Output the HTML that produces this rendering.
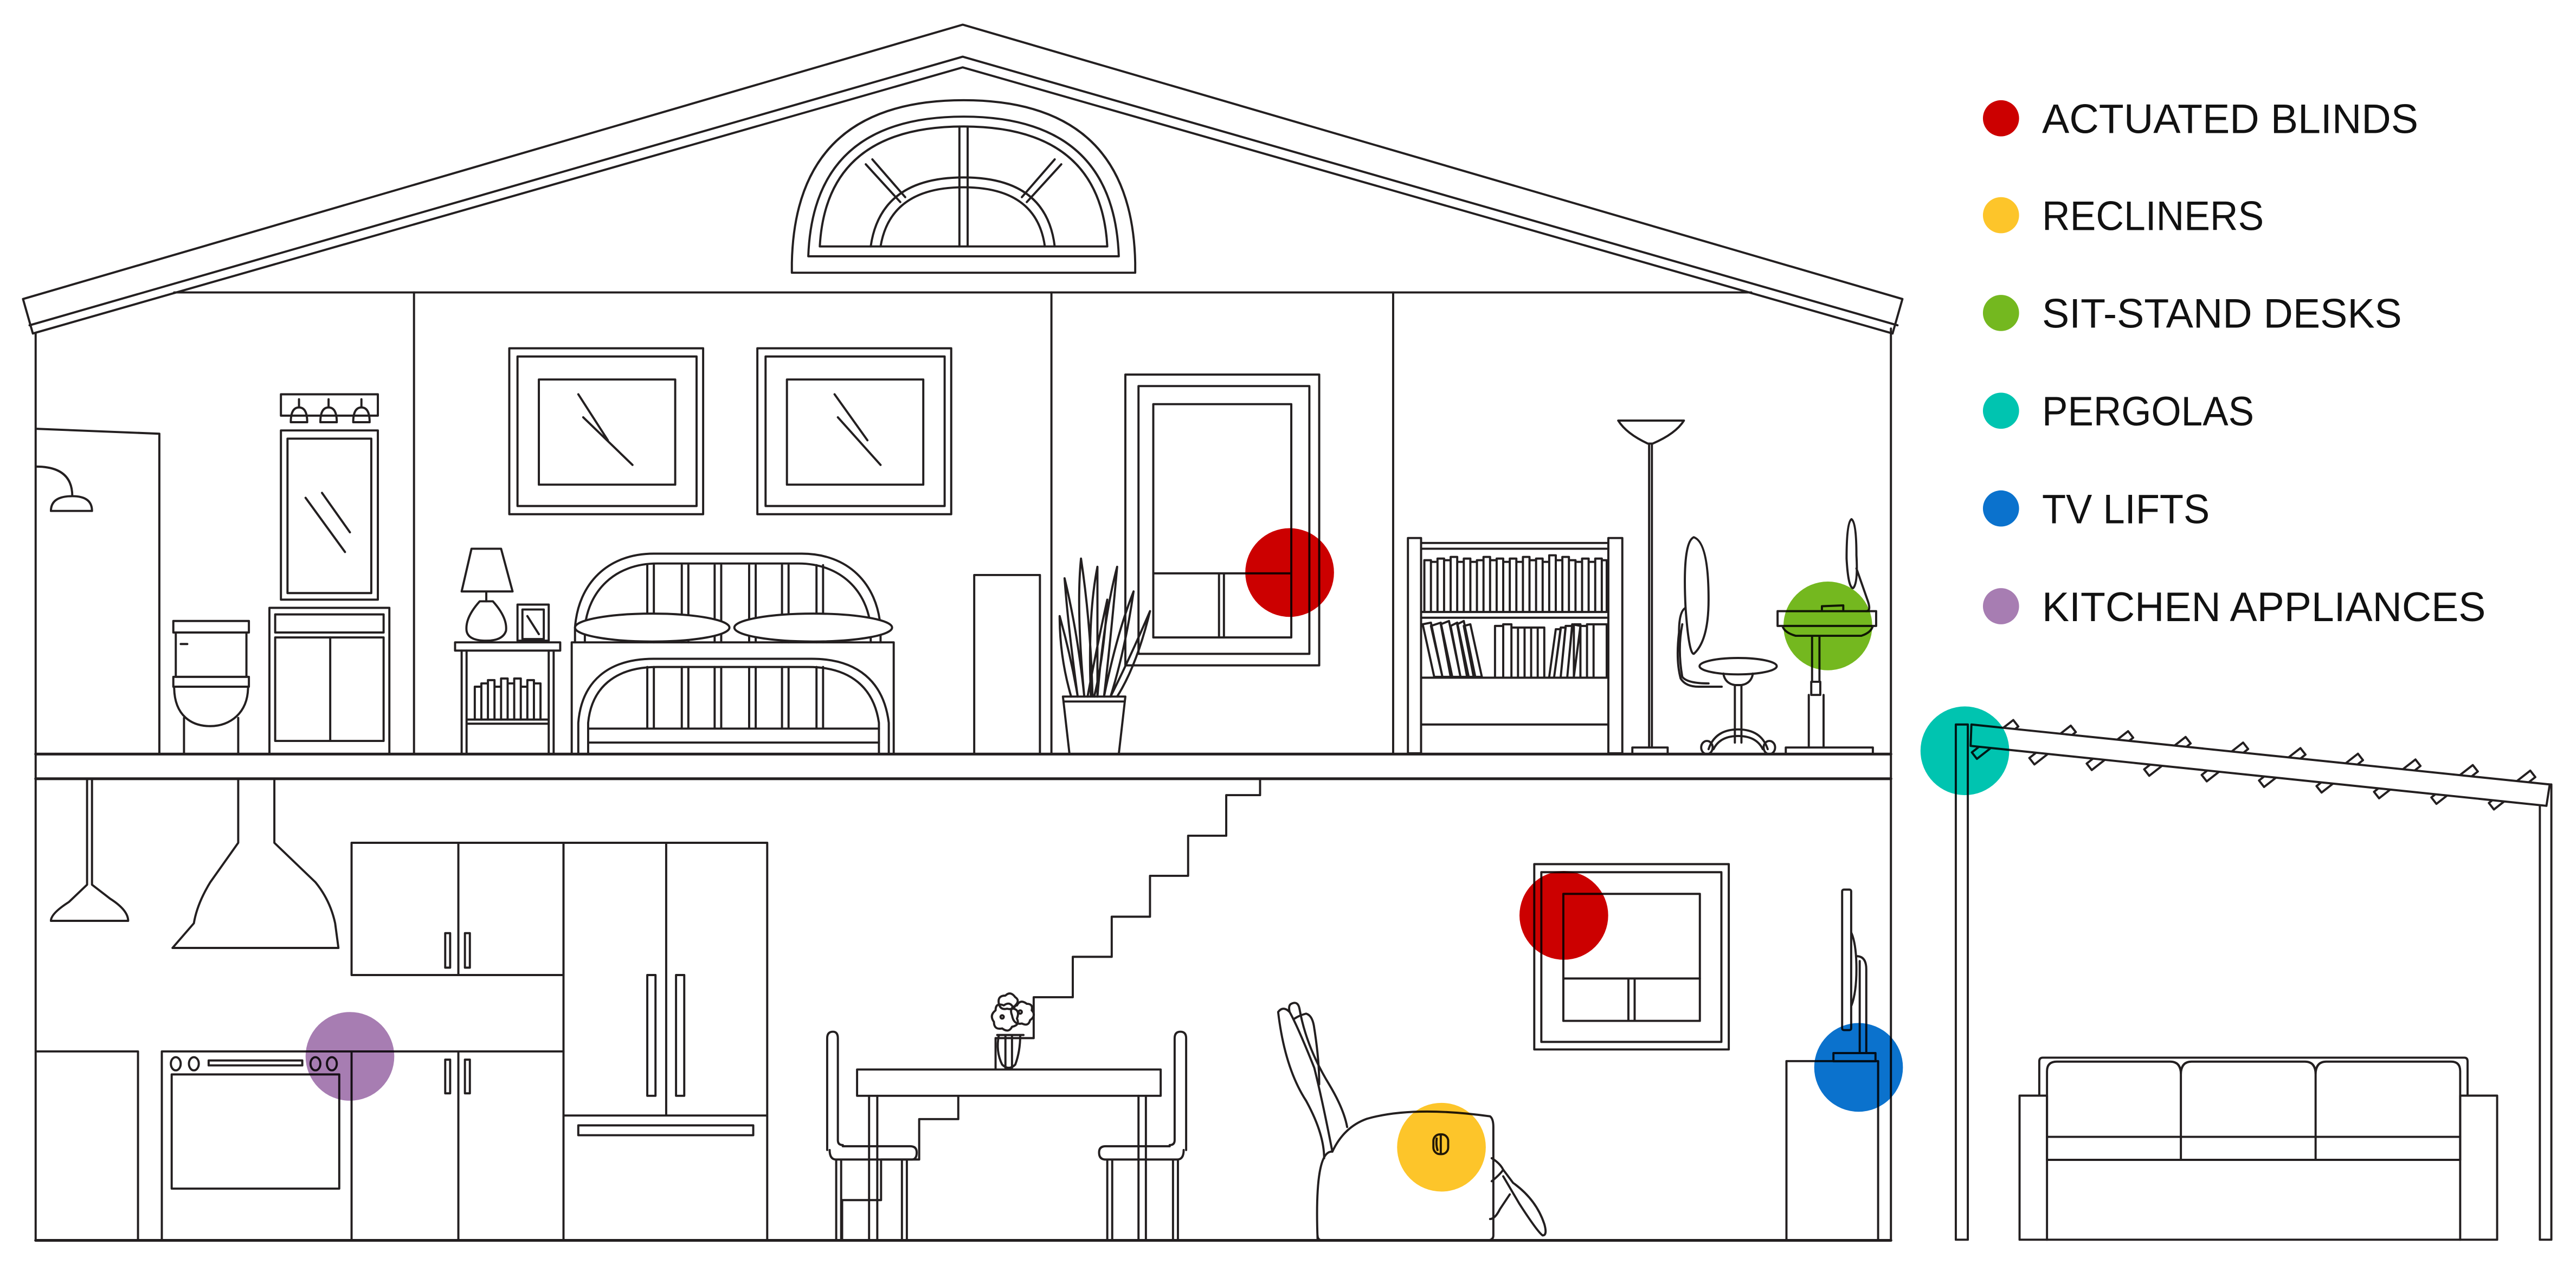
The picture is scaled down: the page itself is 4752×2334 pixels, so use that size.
<!DOCTYPE html>
<html><head><meta charset="utf-8"><style>
html,body{margin:0;padding:0;background:#fff;}
svg{display:block;}
.l{fill:none;stroke:#231f20;stroke-width:1.3;stroke-linejoin:round;stroke-linecap:round;}
.w{fill:#fff;stroke:#231f20;stroke-width:1.3;stroke-linejoin:round;}
.t{font-family:"Liberation Sans Narrow","Liberation Sans",sans-serif;font-size:25px;fill:#111;}
.c{mix-blend-mode:multiply;}
</style></head><body>
<svg width="4752" height="2334" viewBox="0 0 1568 770" preserveAspectRatio="none" xmlns="http://www.w3.org/2000/svg">
<rect width="1568" height="770" fill="#fff"/>
<!-- ROOF -->
<path class="l" d="M14,182 L586,15 L1158,182 L1152,203 M14,182 L20,203 M18,198 L586,34.5 L1155,198 M20,203 L586,41 L1152,203"/>
<path class="l" d="M106,178 H1066"/>
<!-- walls -->
<path class="l" d="M21.7,203 V755 M1151,200 V755"/>
<path class="l" style="stroke-width:1.7" d="M21.7,459 H1151 M21.7,474 H1151 M21.7,755 H1151"/>
<!-- arch window -->
<path class="l" d="M482,166 H691 V160 Q689,61 586.5,61 Q484,61 482,160 Z"/>
<path class="l" d="M492,156 H681 Q678,71 586.5,71 Q495,71 492,156 Z"/>
<path class="l" d="M499,150 H674 Q670,77 586.5,77 Q503,77 499,150"/>
<path class="l" d="M530,150 Q536,108 586.5,108 Q637,108 642,150 M536,150 Q542,114 586.5,114 Q631,114 636,150"/>
<path class="l" d="M584,77 V150 M589,77 V150 M527,100 L548,123 M531,97 L551,120 M646,100 L625,123 M642,97 L622,120"/>
<!-- upper partitions -->
<path class="l" d="M252,178 V459 M640,178 V459 M848,178 V459"/>
<!-- bathroom -->
<path class="l" d="M22,261 L97,264 V459"/>
<path class="l" d="M22,284 Q44,284 44,302 M31,311 Q31,302 44,302 Q56,302 56,311 Z"/>
<rect class="l" x="171" y="240" width="59" height="13"/>
<path class="l" d="M177,257 Q177,248 182,248 Q187,248 187,257 Z M195,257 Q195,248 200,248 Q205,248 205,257 Z M215,257 Q215,248 220,248 Q225,248 225,257 Z M182,248 V243 M200,248 V243 M220,248 V243"/>
<rect class="l" x="171" y="262" width="59" height="103"/>
<rect class="l" x="175" y="267" width="51" height="94"/>
<path class="l" d="M186,303 L210,336 M196,300 L213,324"/>
<rect class="l" x="105.5" y="378" width="46" height="7"/>
<rect class="l" x="107" y="385" width="43" height="27"/>
<rect class="l" x="105.5" y="412" width="46" height="6"/>
<path class="l" d="M106,418 C106,436 117,442 128,442 C140,442 151,434 151,418 M112,437 V459 M145,437 V459 M110,392 h4"/>
<rect class="l" x="164" y="370" width="73" height="89"/>
<rect class="l" x="167.5" y="374" width="66" height="11"/>
<rect class="l" x="167.5" y="388" width="66" height="63"/>
<path class="l" d="M201,388 V451"/>
<!-- bedroom frames -->
<rect class="l" x="310" y="212" width="118" height="101"/>
<rect class="l" x="315" y="217" width="109" height="91"/>
<rect class="l" x="328" y="231" width="83" height="64"/>
<path class="l" d="M352,240 L370,268 M355,254 L385,283"/>
<rect class="l" x="461" y="212" width="118" height="101"/>
<rect class="l" x="466" y="217" width="109" height="91"/>
<rect class="l" x="479" y="231" width="83" height="64"/>
<path class="l" d="M508,240 L528,268 M510,254 L536,283"/>
<!-- nightstand & lamp -->
<path class="l" d="M287,334 H305 L312,360 H281 Z M296,360 V366"/>
<path class="l" d="M292,366 H300 Q309,376 308,384 Q306,390 296,390 Q285,390 284,384 Q283,376 292,366 Z"/>
<rect class="l" x="315" y="368" width="19" height="22"/>
<rect class="l" x="318" y="371" width="13" height="18"/>
<path class="l" d="M321,375 L328,386"/>
<rect class="l" x="277" y="391" width="64" height="5"/>
<path class="l" d="M281,396 V459 M284,396 V459 M334,396 V459 M337,396 V459 M284,438 H334 M284,440.5 H334"/>
<path class="l" d="M289,438 V418 H293 V438 M293,438 V416 H297 V438 M297,438 V414 H301 V438 M301,438 V418 H305 V438 M305,438 V413 H309 V438 M309,438 V416 H313 V438 M313,438 V413 H317 V438 M317,438 V418 H321 V438 M321,438 V414 H325 V438 M325,438 V416 H329 V438"/>
<!-- bed -->
<path class="l" d="M350,391 V382 C352,355 370,337 398,337 H488 C516,337 534,355 536,382 V391"/>
<path class="l" d="M356,391 V382 C358,360 374,343 400,343 H486 C512,343 528,360 530,382 V391"/>
<path class="l" d="M394,344 V391 M398,344 V391 M415,344 V391 M419,344 V391 M435,344 V391 M439,344 V391 M456,344 V391 M460,344 V391 M476,344 V391 M480,344 V391 M497,344 V391 M501,344 V391"/>
<rect class="l" x="348" y="391" width="196" height="68"/>
<path class="l" d="M352,459 V440 C354,415 370,401 398,401 H494 C522,401 538,415 541,440 V459"/>
<path class="l" d="M358,459 V440 C360,419 374,406 400,406 H492 C518,406 532,419 535,440 V459"/>
<path class="l" d="M394,406 V443 M398,406 V443 M415,406 V443 M419,406 V443 M435,406 V443 M439,406 V443 M456,406 V443 M460,406 V443 M476,406 V443 M480,406 V443 M497,406 V443 M501,406 V443 M358,443.5 H535 M358,452 H535"/>
<ellipse class="w" cx="397" cy="382" rx="47" ry="8.5"/>
<ellipse class="w" cx="495" cy="382" rx="48" ry="8.5"/>
<!-- tall box -->
<path class="l" d="M593,459 V350 H633 V459"/>
<!-- plant -->
<path class="l" d="M647,424 H685 L681,459 H651 Z M648,427 H684"/>
<path class="l" d="M656,424 Q650,380 648,352 Q656,385 660,424 M660,424 Q655,370 658,340 Q664,380 665,424 M664,424 Q662,375 668,345 Q668,390 668,424 M668,424 Q672,375 680,345 Q676,390 672,424 M672,424 Q680,385 690,360 Q685,395 676,424 M676,424 Q688,400 700,372 Q692,405 680,424 M652,424 Q645,400 645,375 Q652,400 656,424 M662,424 Q668,392 674,365 Q672,400 666,424"/>
<!-- upper room window with blind -->
<rect class="l" x="685" y="228" width="118" height="177"/>
<rect class="l" x="693" y="235" width="104" height="163"/>
<rect class="l" x="702" y="246" width="84" height="142"/>
<path class="l" d="M702,349 H786 M742,349 V388 M745,349 V388"/>
<!-- bookshelf -->
<rect class="l" x="857" y="327.5" width="8" height="131"/>
<rect class="l" x="979" y="327.5" width="8.5" height="131"/>
<path class="l" d="M865,330.5 H979 M865,334 H979 M865,372.5 H979 M865,376 H979 M865,412.5 H979 M865,441 H979"/>
<path class="l" d="M867,372 V341 H871 V372 M871,372 V342 H875 V372 M875,372 V340 H879 V372 M879,372 V341 H883 V372 M883,372 V339 H887 V372 M887,372 V342 H891 V372 M891,372 V340 H895 V372 M895,372 V342 H899 V372 M899,372 V341 H903 V372 M903,372 V339 H907 V372 M907,372 V341 H911 V372 M911,372 V340 H915 V372 M915,372 V342 H919 V372 M919,372 V340 H923 V372 M923,372 V342 H927 V372 M927,372 V339 H931 V372 M931,372 V341 H935 V372 M935,372 V340 H939 V372 M939,372 V342 H943 V372 M943,372 V338 H947 V372 M947,372 V341 H951 V372 M951,372 V339 H955 V372 M955,372 V341 H959 V372 M959,372 V342 H963 V372 M963,372 V340 H967 V372 M967,372 V342 H971 V372 M971,372 V340 H975 V372 M975,372 V341 H978 V372"/>
<path class="l" d="M866,380 L871,379 L878,412 L873,412 Z M871,381 L877,379 L884,412 L878,412 Z M877,380 L882,378 L889,412 L883,412 Z M883,381 L887,379 L894,412 L889,412 Z M887,380 L891,378 L898,412 L893,412 Z M891,381 L895,380 L902,412 L897,412 Z"/>
<path class="l" d="M910,412 V381 H915 V412 M915,412 V380 H920 V412 M920,412 V382 H924 V412 M924,412 V382 H928 V412 M928,412 V382 H932 V412 M932,412 V382 H936 V412 M936,412 V382 H940 V412"/>
<path class="l" d="M943,412 L947,383 L950,383 L946,412 M946,412 L950,382 L953,382 L950,412 M950,412 L953,381 L957,381 L954,412 M954,412 L957,380 L962,381 L958,412 M958,412 V380 H962 V412 M962,412 V381 H966 V412 M966,412 V380 H970 V412 M970,412 V380 H978 V412"/>
<!-- floor lamp -->
<path class="l" d="M985,256 H1025 Q1020,264 1006,270 H1003 Q990,264 985,256 Z M1003.8,270 V455 M1005.5,270 V455"/>
<rect class="l" x="993.6" y="455" width="21.5" height="4"/>
<!-- office chair -->
<path class="l" d="M1031,327 Q1024,330 1026,370 Q1028,398 1031,398 Q1040,390 1040,365 Q1040,330 1031,327 Z"/>
<path class="l" d="M1026,370 Q1022,372 1022,385 Q1020,402 1023,413 Q1026,418 1034,418 H1048 M1024,380 Q1021,395 1024,412 Q1027,416 1040,416"/>
<ellipse class="l" cx="1058" cy="405.5" rx="23.5" ry="5"/>
<path class="l" d="M1049,410 Q1050,416 1056,417 H1060 Q1066,416 1067,410 M1056,417 V452 M1060,417 V452 M1040,456 Q1044,444 1058,444 Q1072,444 1076,456 M1043,456 Q1047,448 1058,448 Q1069,448 1073,456"/>
<ellipse class="l" cx="1039" cy="455" rx="3.5" ry="4"/>
<ellipse class="l" cx="1077" cy="455" rx="3.5" ry="4"/>
<!-- desk -->
<path class="l" d="M1127,316 Q1124,318 1124,340 Q1125,358 1128,358 Q1131,355 1130,338 Q1130,318 1127,316 Z M1130,346 L1137,366 Q1139,372 1136,372"/>
<rect class="l" x="1082" y="372" width="60" height="9"/>
<path class="l" d="M1109,371 V369 L1122,368.5 V371"/>
<path class="l" d="M1085,381 Q1086,385 1093,387 H1133 Q1139,385 1140,381 M1103,387 V415 M1107.5,387 V415 M1102.5,415 H1108 V423 H1102.5 Z M1101,423 V455 M1110,423 V455"/>
<rect class="l" x="1087" y="455" width="53" height="4"/>
<!-- ===== GROUND FLOOR ===== -->
<!-- pendants -->
<path class="l" d="M53,474 V538.5 L42,549 Q31,556 31,560.5 H78 Q78,554 67,547 L56,538.5 V474"/>
<path class="l" d="M145,474 V513 L128,537 Q120,550 118,562 L105,577 H206 L204,562 Q201,548 192,537 L167,513 V474"/>
<!-- upper cabinet -->
<rect class="l" x="214" y="513" width="129" height="80.5"/>
<path class="l" d="M279,513 V593.5"/>
<rect class="l" x="271" y="568" width="3" height="21"/>
<rect class="l" x="283" y="568" width="3" height="21"/>
<!-- fridge -->
<path class="l" d="M343,755 V513 H467 V755 M405.5,513 V679 M343,679 H467"/>
<rect class="l" x="394" y="593.5" width="5" height="73.5"/>
<rect class="l" x="411.5" y="593.5" width="5" height="73.5"/>
<rect class="l" x="352" y="685" width="106.5" height="6"/>
<!-- lower kitchen -->
<path class="l" d="M22,640 H84 V755 M98.5,755 V640 H343 M214,640 V755 M279,640 V755"/>
<ellipse class="l" cx="107" cy="647.5" rx="3" ry="4"/>
<ellipse class="l" cx="118" cy="647.5" rx="3" ry="4"/>
<ellipse class="l" cx="192" cy="647.5" rx="3" ry="4"/>
<ellipse class="l" cx="202" cy="647.5" rx="3" ry="4"/>
<rect class="l" x="127" y="645.5" width="57" height="3"/>
<rect class="l" x="104.5" y="654" width="102" height="69.5"/>
<rect class="l" x="271" y="645" width="3" height="20.5"/>
<rect class="l" x="283" y="645" width="3" height="20.5"/>
<!-- stairs -->
<path class="l" d="M767,474 V484 H746.4 V508.7 H723.2 V533.1 H700 V558 H676.7 V582.4 H653 V607 H629.2 V631.9 H606 V656.5 H583.3 V681.2 H559.5 V705.8 H536.3 V730.5 H512.6 V755"/>
<!-- dining -->
<rect class="w" x="521.7" y="651" width="184.8" height="16"/>
<path class="l" d="M529,667 V755 M534,667 V755 M693,667 V755 M697.5,667 V755"/>
<path class="l" d="M607,630 H623 M608,630 Q606,640 610,648 Q614,652 618,648 Q621,640 621,630 M612,630 V650 M616,630 V650"/>
<path class="l" d="M605,622 q-3,-4 1,-7 q0,-5 5,-3 q4,-3 6,2 q4,1 2,6 q2,4 -3,5 q-2,4 -6,1 q-5,1 -5,-4 Z M616,618 q-2,-5 3,-6 q2,-4 6,-1 q4,0 3,4 q3,3 -1,6 q-1,4 -5,2 q-5,1 -6,-5 Z M608,611 q-1,-5 4,-5 q3,-3 6,1 q3,2 0,5 q-1,3 -5,2 q-4,1 -5,-3 Z"/>
<circle class="l" cx="610" cy="619" r="1"/><circle class="l" cx="621" cy="616" r="1"/>
<path class="l" d="M503.5,700 V632 Q503.5,628 507,628 Q510,628 510,632 V694 Q510,697 513,697 M505,700 Q505,705.8 509,705.8 H555 Q558,705.8 558,701.5 Q558,697.7 554,697.7 H513 M509,706 V755 M512,706 V755 M549,706 V755 M552,706 V755"/>
<path class="l" d="M722,700 V632 Q722,628 718.5,628 Q715,628 715,632 V694 Q715,697 712,697 M720.5,700 Q720.5,705.8 716.5,705.8 H673 Q669,705.8 669,701.5 Q669,697.7 673,697.7 H712 M674,706 V755 M677,706 V755 M714,706 V755 M717,706 V755"/>
<!-- picture frame with blind -->
<rect class="l" x="933.9" y="526" width="118.4" height="112.8"/>
<rect class="l" x="938.2" y="530.9" width="109.6" height="103.3"/>
<rect class="l" x="951.6" y="544.1" width="83.1" height="77.3"/>
<path class="l" d="M951.6,595.6 H1034.7 M991.2,595.6 V621.4 M995,595.6 V621.4"/>
<!-- recliner -->
<path class="l" d="M802,754 Q800,700 811,701 Q818,686 832,681 Q860,673 907,679.5 Q909,681 909,686 L909,752 Q909,755 905,755 H805 Q802,755 802,752 Z"/>
<path class="l" d="M811,701 Q805,670 800,650 Q790,625 785,616 Q784,612 786,611 Q790,609 791,614 Q795,637 809,660 Q818,675 820,686 M785,616 Q781,612 778,616 Q782,650 795,670 Q806,690 806,705"/>
<path class="l" d="M788,620 Q791,618 795,617 Q799,618 800,626 Q803,645 803,660"/>
<path class="l" d="M908,705 Q913,708 915,712 L921,720 Q935,730 940,745 Q942,752 939,752 Q936,750 925,733 L915,716 M915,712 Q913,715 908,719 M919,727 L913,736 Q910,742 907,742"/>
<rect class="l" x="872.5" y="690.5" width="9" height="12" rx="4"/>
<path class="l" d="M874.5,693 Q874,697 875,700 M877,691 V702"/>
<!-- TV lift -->
<path class="l" d="M1087.4,755 V645.9 H1143.2 V755"/>
<rect class="l" x="1116" y="641" width="25.6" height="5"/>
<rect class="l" x="1121.3" y="541.5" width="5.5" height="85.5" rx="1"/>
<path class="l" d="M1127,568 Q1130,575 1130,590 Q1130,604 1127,612 M1130,582 Q1136,582 1136,590 V641 M1132,585 V641"/>
<!-- ===== PERGOLA ===== -->
<g class="l">
<rect x="-2.5" y="-16" width="5" height="32" transform="translate(1214.4,450.1) rotate(52)"/>
<rect x="-2.5" y="-16" width="5" height="32" transform="translate(1249.4,453.5) rotate(52)"/>
<rect x="-2.5" y="-16" width="5" height="32" transform="translate(1284.3,456.9) rotate(52)"/>
<rect x="-2.5" y="-16" width="5" height="32" transform="translate(1319.3,460.4) rotate(52)"/>
<rect x="-2.5" y="-16" width="5" height="32" transform="translate(1354.3,463.8) rotate(52)"/>
<rect x="-2.5" y="-16" width="5" height="32" transform="translate(1389.2,467.2) rotate(52)"/>
<rect x="-2.5" y="-16" width="5" height="32" transform="translate(1424.2,470.6) rotate(52)"/>
<rect x="-2.5" y="-16" width="5" height="32" transform="translate(1459.2,474.1) rotate(52)"/>
<rect x="-2.5" y="-16" width="5" height="32" transform="translate(1494.1,477.5) rotate(52)"/>
<rect x="-2.5" y="-16" width="5" height="32" transform="translate(1529.1,480.9) rotate(52)"/>
</g>
<rect class="l" x="1190.5" y="441" width="7.3" height="313.6"/>
<rect class="l" x="1546" y="477.5" width="7" height="277.1"/>
<path class="w" d="M1200,441 L1552,477.5 L1550,490.5 L1199.5,454 Z"/>
<!-- sofa -->
<path class="l" d="M1241.3,666.9 V646 Q1241.3,643.8 1243.5,643.8 H1500 Q1502,643.8 1502,646 V666.9"/>
<rect class="l" x="1229.3" y="666.9" width="16.7" height="87.7"/>
<rect class="l" x="1497.5" y="666.9" width="22.5" height="87.7"/>
<path class="l" d="M1246,706 V652 Q1246,646.2 1252,646.2 H1321 Q1327.5,646.2 1327.5,654 V706 M1327.5,654 Q1327.5,646.2 1334,646.2 H1403 Q1409.5,646.2 1409.5,654 V706 M1409.5,654 Q1409.5,646.2 1416,646.2 H1492 Q1497.5,646.2 1497.5,652 V706"/>
<path class="l" d="M1246,692 H1327.5 M1327.5,692 H1409.5 M1409.5,692 H1497.5 M1246,706 H1497.5 M1246,754.6 H1497.5"/>
<!-- colored markers -->
<g class="c">
<circle cx="785" cy="348.5" r="27" fill="#cc0000"/>
<circle cx="1112.6" cy="381" r="27" fill="#74b81f"/>
<circle cx="1196" cy="457" r="27" fill="#00c4b0"/>
<circle cx="951.9" cy="557.2" r="27" fill="#cc0000"/>
<circle cx="1131.3" cy="649.7" r="27" fill="#0b72cd"/>
<circle cx="877.4" cy="698.3" r="27" fill="#fdc52a"/>
<circle cx="213" cy="643" r="27" fill="#a77db2"/>
</g>
<!-- legend -->
<circle cx="1218" cy="72" r="11" fill="#cc0000"/>
<circle cx="1218" cy="131" r="11" fill="#fdc52a"/>
<circle cx="1218" cy="190.5" r="11" fill="#74b81f"/>
<circle cx="1218" cy="250" r="11" fill="#00c4b0"/>
<circle cx="1218" cy="309.5" r="11" fill="#0b72cd"/>
<circle cx="1218" cy="369" r="11" fill="#a77db2"/>
<text class="t" x="1243" y="81" textLength="229" lengthAdjust="spacingAndGlyphs">ACTUATED BLINDS</text>
<text class="t" x="1243" y="140" textLength="135" lengthAdjust="spacingAndGlyphs">RECLINERS</text>
<text class="t" x="1243" y="199.5" textLength="219" lengthAdjust="spacingAndGlyphs">SIT-STAND DESKS</text>
<text class="t" x="1243" y="259" textLength="129" lengthAdjust="spacingAndGlyphs">PERGOLAS</text>
<text class="t" x="1243" y="318.5" textLength="102" lengthAdjust="spacingAndGlyphs">TV LIFTS</text>
<text class="t" x="1243" y="378" textLength="270" lengthAdjust="spacingAndGlyphs">KITCHEN APPLIANCES</text>
</svg>
</body></html>
